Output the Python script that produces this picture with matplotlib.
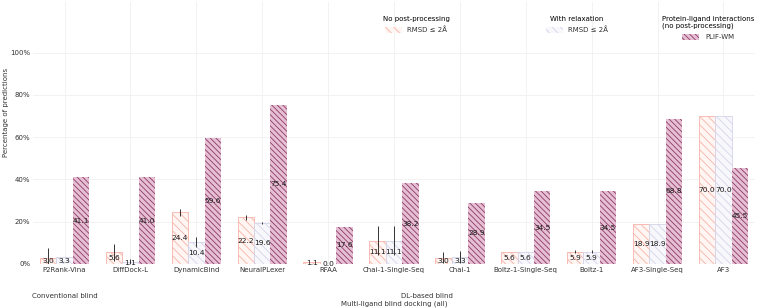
import numpy as np
import matplotlib
matplotlib.use("Agg")
import matplotlib.pyplot as plt
from matplotlib.patches import Patch

# ── data
methods = ["P2Rank-Vina", "DiffDock-L", "DynamicBind", "NeuralPLexer", "RFAA",
           "Chai-1-Single-Seq", "Chai-1", "Boltz-1-Single-Seq", "Boltz-1",
           "AF3-Single-Seq", "AF3"]
rmsd_raw = [3.0, 5.6, 24.4, 22.2, 1.1, 11.1, 3.0, 5.6, 5.9, 18.9, 70.0]
rmsd_raw_err = [4.5, 4.0, 1.5, 1.2, 0.0, 7.0, 2.6, 0.0, 0.7, 0.0, 0.0]
rmsd_relax = [3.3, 1.1, 10.4, 19.6, 0.0, 11.1, 3.3, 5.6, 5.9, 18.9, 70.0]
rmsd_relax_err = [0.0, 1.5, 2.5, 0.5, 0.0, 7.0, 3.0, 0.0, 0.7, 0.0, 0.0]
plif_wm = [41.1, 41.0, 59.6, 75.4, 17.6, 38.2, 28.9, 34.5, 34.5, 68.8, 45.5]
yticks = [0, 20, 40, 60, 80, 100]

PINK_FC, PINK_EC = "#fff5f3", "#f7b2a8"
GREY_FC, GREY_EC = "#f8f8fc", "#d4d4ea"
PURP_FC, PURP_EC = "#e6bfd3", "#8c3a68"
TXT = "#333333"
FS = 5

plt.rcParams["hatch.linewidth"] = 0.6
plt.rcParams["font.size"] = FS

fig = plt.figure(figsize=(7.63, 3.08), dpi=100)
ax = fig.add_axes([33 / 763, 1 - 264 / 308, 722 / 763, 262 / 308])

x = np.arange(len(methods))
w = 0.25

b1 = ax.bar(x - w, rmsd_raw, w, color=PINK_FC, edgecolor=PINK_EC, hatch="\\\\\\\\",
            linewidth=0.6, zorder=2)
b2 = ax.bar(x, rmsd_relax, w, color=GREY_FC, edgecolor=GREY_EC, hatch="\\\\\\\\",
            linewidth=0.6, zorder=2)
b3 = ax.bar(x + w, plif_wm, w, color=PURP_FC, edgecolor=PURP_EC, hatch="\\\\\\\\\\\\",
            linewidth=0.0, zorder=2)

ax.errorbar(x - w, rmsd_raw, yerr=rmsd_raw_err, fmt="none", ecolor=TXT,
            elinewidth=0.7, capsize=0, zorder=3)
ax.errorbar(x, rmsd_relax, yerr=rmsd_relax_err, fmt="none", ecolor=TXT,
            elinewidth=0.7, capsize=0, zorder=3)

for cont in (b1, b2, b3):
    ax.bar_label(cont, fmt="%.1f", label_type="center", fontsize=5.4,
                 color="#1a1a1a", zorder=4)

ax.set_xlim(-0.48, len(methods) - 0.52)
ax.set_ylim(0, 124)
ax.set_xticks(x)
ax.set_xticklabels(methods, fontsize=FS)
ax.set_yticks(yticks)
ax.set_yticklabels([f"{t}%" for t in yticks], fontsize=FS)
ax.tick_params(length=0, pad=2, colors=TXT)
ax.grid(True, color="#f0f0f0", linewidth=0.6, zorder=0)
ax.set_axisbelow(True)
for sp in ax.spines.values():
    sp.set_visible(False)
ax.set_ylabel("Percentage of predictions", fontsize=FS, color=TXT)
ax.yaxis.set_label_coords(-24 / 722, 0.58)
ax.set_xlabel("Multi-ligand blind docking (all)", fontsize=FS, color=TXT)
ax.xaxis.set_label_coords(0.5, -0.14)

# group labels under the ticks
trans = ax.get_xaxis_transform()
ax.text(0, -0.122, "Conventional blind", transform=trans, ha="center", va="center",
        fontsize=FS, color=TXT)
ax.text(5.5, -0.122, "DL-based blind", transform=trans, ha="center", va="center",
        fontsize=FS, color=TXT)

# three separate legends
leg_kw = dict(frameon=False, fontsize=FS, title_fontsize=FS, loc="upper center",
              bbox_transform=fig.transFigure, handlelength=2.5, handleheight=0.9,
              borderpad=0.2, labelspacing=0.7, labelcolor=TXT)
l1 = ax.legend(handles=[Patch(facecolor=PINK_FC, edgecolor=PINK_EC, hatch="\\\\\\\\",
                              linewidth=0.0, label="RMSD ≤ 2Å")],
               title="No post-processing", bbox_to_anchor=(416 / 763, 0.965), **leg_kw)
ax.add_artist(l1)
l2 = ax.legend(handles=[Patch(facecolor=GREY_FC, edgecolor=GREY_EC, hatch="\\\\\\\\",
                              linewidth=0.0, label="RMSD ≤ 2Å")],
               title="With relaxation", bbox_to_anchor=(577 / 763, 0.965), **leg_kw)
ax.add_artist(l2)
ax.legend(handles=[Patch(facecolor=PURP_FC, edgecolor=PURP_EC, hatch="\\\\\\\\\\\\",
                         linewidth=0.0, label="PLIF-WM")],
          title="Protein-ligand interactions\n(no post-processing)",
          bbox_to_anchor=(708 / 763, 0.965), **leg_kw)

fig.savefig("out.png", dpi=100)
